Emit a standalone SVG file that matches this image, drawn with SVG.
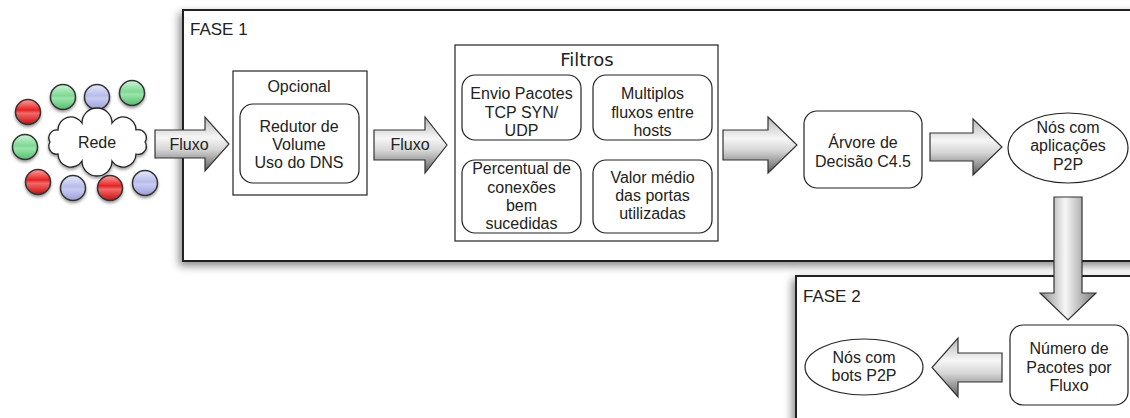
<svg xmlns="http://www.w3.org/2000/svg" width="1130" height="418" viewBox="0 0 1130 418">
<defs>
<style>
text{font-family:"Liberation Sans",Arial,sans-serif;font-size:16px;fill:#222;text-anchor:middle}
.lbl{font-size:17px;text-anchor:start}
.ttl{font-family:"DejaVu Sans","Liberation Sans",sans-serif;font-size:18px}
.frame{fill:#fff;stroke:#222;stroke-width:2}
.box{fill:#fff;stroke:#222;stroke-width:1.2}
.rbox{fill:#fff;stroke:#222;stroke-width:1.2}
.harrow{fill:url(#gh);stroke:#333;stroke-width:1.2;stroke-linejoin:miter}
.varrow{fill:url(#gv);stroke:#333;stroke-width:1.2}
.dot{stroke:#333;stroke-width:1.5;filter:url(#sd)}
</style>
<linearGradient id="gh" x1="0" y1="0" x2="0" y2="1">
<stop offset="0" stop-color="#b8b8b8"/><stop offset="0.38" stop-color="#f6f6f6"/><stop offset="0.6" stop-color="#d6d6d6"/><stop offset="1" stop-color="#5e5e5e"/>
</linearGradient>
<linearGradient id="gv" x1="0" y1="0" x2="1" y2="0">
<stop offset="0" stop-color="#8a8a8a"/><stop offset="0.45" stop-color="#f6f6f6"/><stop offset="1" stop-color="#7a7a7a"/>
</linearGradient>
<linearGradient id="gred" x1="0" y1="0" x2="0" y2="1">
<stop offset="0" stop-color="#f6a4a4"/><stop offset="0.42" stop-color="#e52222"/><stop offset="0.55" stop-color="#f26a6a"/><stop offset="1" stop-color="#c80c0c"/>
</linearGradient>
<linearGradient id="ggreen" x1="0" y1="0" x2="0" y2="1">
<stop offset="0" stop-color="#d2f4da"/><stop offset="0.45" stop-color="#7ed894"/><stop offset="0.55" stop-color="#9be4ab"/><stop offset="1" stop-color="#4fbf6c"/>
</linearGradient>
<linearGradient id="gblue" x1="0" y1="0" x2="0" y2="1">
<stop offset="0" stop-color="#e6e8fa"/><stop offset="0.45" stop-color="#b8bcea"/><stop offset="0.55" stop-color="#c8cbf0"/><stop offset="1" stop-color="#9a9fdc"/>
</linearGradient>
<filter id="sh" x="-5%" y="-10%" width="110%" height="125%">
<feDropShadow dx="-3" dy="4" stdDeviation="4" flood-color="#000" flood-opacity="0.45"/>
</filter>
<filter id="sd" x="-30%" y="-30%" width="160%" height="170%">
<feDropShadow dx="0" dy="2" stdDeviation="1.5" flood-color="#000" flood-opacity="0.4"/>
</filter>
</defs>
<rect width="1130" height="418" fill="#fff"/>

<g id="fase1">
<rect class="frame" x="183" y="10" width="1000" height="251" filter="url(#sh)"/>
<text class="lbl" x="190" y="35">FASE 1</text>
</g>
<g id="fase2">
<rect class="frame" x="796" y="276" width="400" height="200" filter="url(#sh)"/>
<text class="lbl" x="803" y="302">FASE 2</text>
</g>

<g id="rede">
<circle class="dot" cx="28" cy="112" r="12.5" fill="url(#gred)"/>
<circle class="dot" cx="63" cy="97" r="12.5" fill="url(#ggreen)"/>
<circle class="dot" cx="97" cy="97" r="12.5" fill="url(#gblue)"/>
<circle class="dot" cx="132" cy="93" r="12.5" fill="url(#ggreen)"/>
<circle class="dot" cx="25" cy="147" r="12.5" fill="url(#ggreen)"/>
<circle class="dot" cx="38" cy="182" r="12.5" fill="url(#gred)"/>
<circle class="dot" cx="73" cy="188" r="12.5" fill="url(#gblue)"/>
<circle class="dot" cx="110" cy="188" r="12.5" fill="url(#gred)"/>
<circle class="dot" cx="145" cy="183" r="12.5" fill="url(#gblue)"/>
<path d="M50 142 A8 8 0 0 1 58 130 A13 13 0 0 1 82 123 A15 15 0 0 1 112 123 A13 13 0 0 1 136 130 A8 8 0 0 1 145 142 A8 8 0 0 1 136 154 A13 13 0 0 1 112 161 A15 15 0 0 1 82 161 A13 13 0 0 1 58 154 A8 8 0 0 1 50 142 Z" fill="#fff" stroke="#222" stroke-width="1.3" filter="url(#sd)"/>
<text x="97" y="148">Rede</text>
</g>

<g id="opcional">
<rect class="box" x="233" y="71" width="134" height="124"/>
<text x="299" y="92">Opcional</text>
</g>
<g id="redutor">
<rect class="rbox" x="240" y="104" width="119" height="79" rx="13"/>
<text x="299" y="132">Redutor de</text>
<text x="299" y="150">Volume</text>
<text x="299" y="168">Uso do DNS</text>
</g>

<g id="filtros">
<rect class="box" x="455" y="45" width="263" height="196"/>
<text class="ttl" x="587" y="66">Filtros</text>
</g>
<g id="f-envio">
<rect class="rbox" x="462" y="75" width="119" height="65" rx="13"/>
<text x="521.5" y="99">Envio Pacotes</text>
<text x="521.5" y="118">TCP SYN/</text>
<text x="521.5" y="136">UDP</text>
</g>
<g id="f-multiplos">
<rect class="rbox" x="593" y="75" width="119" height="65" rx="13"/>
<text x="652.5" y="99">Multiplos</text>
<text x="652.5" y="118">fluxos entre</text>
<text x="652.5" y="136">hosts</text>
</g>
<g id="f-percentual">
<rect class="rbox" x="462" y="160" width="119" height="73" rx="13"/>
<text x="521.5" y="174">Percentual de</text>
<text x="521.5" y="193">conexões</text>
<text x="521.5" y="211">bem</text>
<text x="521.5" y="229">sucedidas</text>
</g>
<g id="f-valor">
<rect class="rbox" x="593" y="160" width="119" height="73" rx="13"/>
<text x="652.5" y="183">Valor médio</text>
<text x="652.5" y="201">das portas</text>
<text x="652.5" y="219">utilizadas</text>
</g>

<g id="arvore">
<rect class="rbox" x="804" y="111" width="118" height="77" rx="13"/>
<text x="863" y="148">Árvore de</text>
<text x="863" y="167">Decisão C4.5</text>
</g>
<g id="nos-aplicacoes">
<ellipse cx="1068" cy="148" rx="60" ry="35" fill="#fff" stroke="#222" stroke-width="1.2"/>
<text x="1068" y="133">Nós com</text>
<text x="1068" y="151">aplicações</text>
<text x="1068" y="170">P2P</text>
</g>
<g id="numero">
<rect class="rbox" x="1010" y="325" width="118" height="80" rx="13"/>
<text x="1069" y="354">Número de</text>
<text x="1069" y="373">Pacotes por</text>
<text x="1069" y="391">Fluxo</text>
</g>
<g id="nos-bots">
<ellipse cx="864" cy="367" rx="59" ry="28" fill="#fff" stroke="#222" stroke-width="1.2"/>
<text x="864" y="363">Nós com</text>
<text x="864" y="381">bots P2P</text>
</g>

<g id="connectors">
<path class="harrow" d="M155 130 H205 V117 L229 144 L205 171 V158 H155 Z"/>
<text x="189" y="150">Fluxo</text>
<path class="harrow" d="M374 130 H425 V117 L447 145 L425 173 V160 H374 Z"/>
<text x="410" y="150">Fluxo</text>
<path class="harrow" d="M723 130 H768 V117 L797 145 L768 173 V160 H723 Z"/>
<path class="harrow" d="M930 133 H973 V119 L1002 147 L973 175 V161 H930 Z"/>
<path class="varrow" d="M1054 197 H1082 V293 H1096 L1068 320 L1040 293 H1054 Z"/>
<path class="harrow" d="M1002 353 H958 V338 L932 367.5 L958 397 V382 H1002 Z"/>
</g>
</svg>
